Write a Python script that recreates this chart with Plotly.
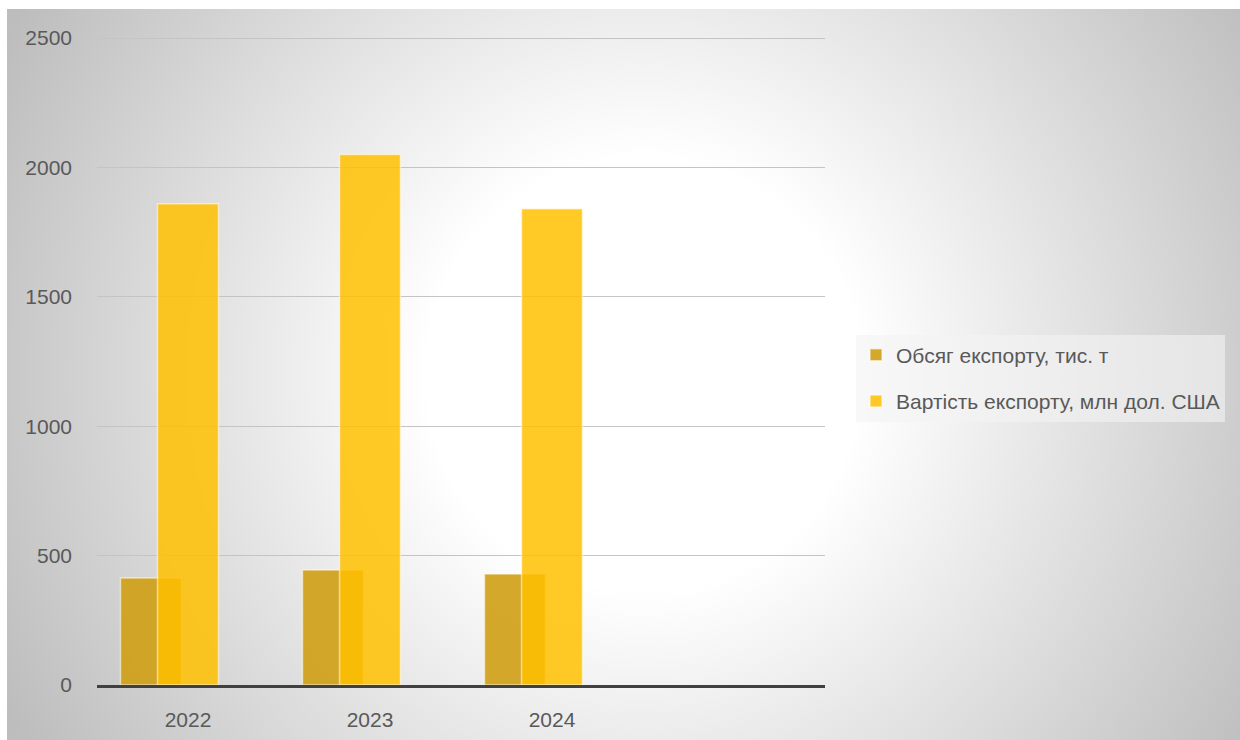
import base64
import plotly.graph_objects as go

# Export of the product by year
years = ["2022", "2023", "2024"]
volume_kt = [413, 444, 429]          # Обсяг експорту, тис. т
value_musd = [1860, 2050, 1840]      # Вартість експорту, млн дол. США
axis_categories = ["2022", "2023", "2024", ""]
y_ticks = [0, 500, 1000, 1500, 2000, 2500]

name_volume = "Обсяг експорту, тис. т"
name_value = "Вартість експорту, млн дол. США"

W, H = 1240, 740
FONT = "Liberation Sans, Arial, sans-serif"
TEXT = "#595959"

# radial grey-to-white backdrop for the chart area (oversized so it reaches the page edges)
bg_x0, bg_y0 = 7, 9
bg_w, bg_h = W - bg_x0 + 20, H - bg_y0 + 20
svg = (
    f'<svg xmlns="http://www.w3.org/2000/svg" width="{bg_w}" height="{bg_h}" '
    f'viewBox="0 0 {bg_w} {bg_h}"><defs><radialGradient id="g" gradientUnits="userSpaceOnUse" '
    f'cx="{(W - bg_x0) / 2 + 20}" cy="{(H - bg_y0) / 2}" r="720">'
    '<stop offset="0" stop-color="#ffffff"/><stop offset="0.3" stop-color="#ffffff"/>'
    '<stop offset="1" stop-color="#bdbdbd"/></radialGradient></defs>'
    f'<rect width="{bg_w}" height="{bg_h}" fill="url(#g)"/></svg>'
)
bg_src = "data:image/svg+xml;base64," + base64.b64encode(svg.encode()).decode()

bar_w = 0.335
fig = go.Figure()
fig.add_trace(go.Bar(
    x=years, y=volume_kt, name=name_volume, legendgroup="a",
    width=bar_w, offset=-0.371,
    marker=dict(color="rgba(207,158,20,0.9)",
                line=dict(color="rgba(255,255,255,0.55)", width=1.5)),
))
fig.add_trace(go.Bar(
    x=years, y=value_musd, name=name_value, legendgroup="b",
    width=bar_w, offset=-bar_w / 2,
    marker=dict(color="rgba(255,192,0,0.85)",
                line=dict(color="rgba(255,255,255,0.55)", width=1.5)),
))

fig.update_layout(
    width=W, height=H, autosize=False,
    margin=dict(l=0, r=0, t=0, b=0, pad=0),
    paper_bgcolor="#c0c0c0",
    plot_bgcolor="rgba(0,0,0,0)",
    barmode="overlay",
    font=dict(family=FONT, size=21, color=TEXT),
    showlegend=True,
    legend=dict(
        x=856 / W, y=1 - 378 / H, xanchor="left", yanchor="middle",
        bgcolor="rgba(244,244,244,0.6)",
        font=dict(family=FONT, size=21, color=TEXT),
        tracegroupgap=16, traceorder="grouped",
    ),
    images=[dict(
        source=bg_src, xref="paper", yref="paper",
        x=bg_x0 / W, y=1 - bg_y0 / H, sizex=bg_w / W, sizey=bg_h / H,
        xanchor="left", yanchor="top", sizing="stretch", layer="below",
    )],
    # white page border along the top and left edges
    shapes=[
        dict(type="rect", xref="paper", yref="paper", x0=0, x1=1, y0=1 - bg_y0 / H, y1=1,
             fillcolor="white", line_width=0, layer="below"),
        dict(type="rect", xref="paper", yref="paper", x0=0, x1=bg_x0 / W, y0=0, y1=1,
             fillcolor="white", line_width=0, layer="below"),
    ],
)

# y scale: 0 at 685 px, 2500 at 38 px; a little headroom keeps the top gridline visible
px_per_unit = (685 - 38) / 2500
y_max = 2512
fig.update_xaxes(
    domain=[97 / W, 825 / W], automargin=False,
    type="category", categoryorder="array", categoryarray=axis_categories,
    range=[-0.5, 3.5],
    tickvals=years, ticktext=years,
    showline=True, linecolor="#404040", linewidth=3,
    showgrid=False, ticks="", ticklabelstandoff=14,
    tickfont=dict(family=FONT, size=21, color=TEXT),
)
fig.update_yaxes(
    domain=[1 - 685 / H, 1 - (685 - y_max * px_per_unit) / H], automargin=False,
    range=[0, y_max], tickvals=y_ticks,
    showgrid=True, gridcolor="#c4c4c4", gridwidth=1,
    zeroline=False, showline=False, ticks="", ticklabelstandoff=24,
    tickfont=dict(family=FONT, size=21, color=TEXT),
)

fig.write_html("out.html")
